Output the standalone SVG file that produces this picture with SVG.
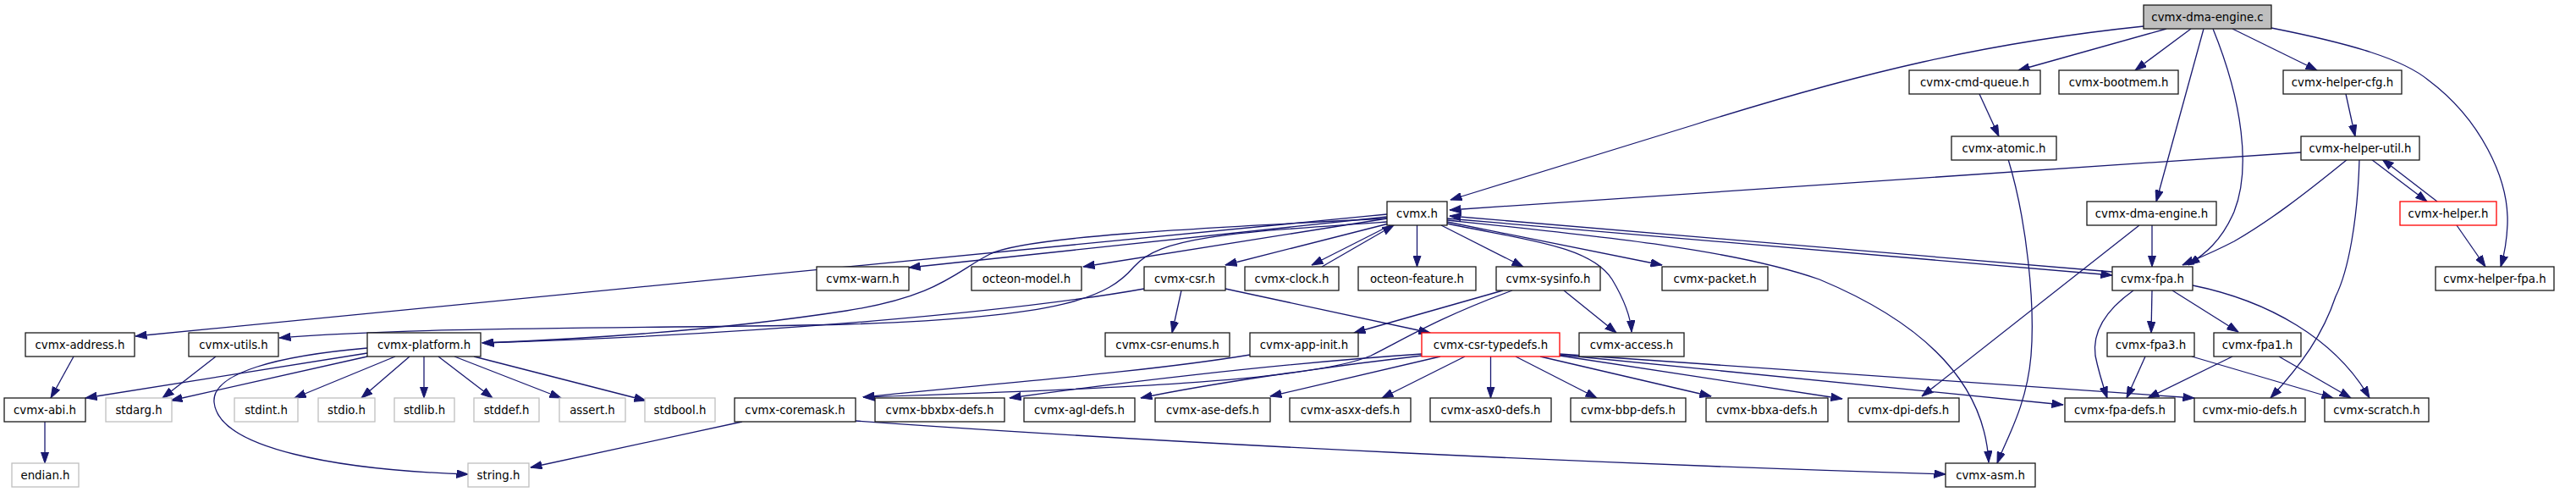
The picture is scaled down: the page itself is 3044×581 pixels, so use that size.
<svg xmlns="http://www.w3.org/2000/svg" width="3044" height="581" viewBox="0 0 3044 581">
<style>
.n rect{fill:#fff;stroke:#1a1a1a;stroke-width:1.3}
.g rect{fill:#fff;stroke:#bfbfbf;stroke-width:1.3}
.r rect{fill:#fff;stroke:#f00;stroke-width:1.3}
.root rect{fill:#bfbfbf;stroke:#1a1a1a;stroke-width:1.3}
text{font-family:"DejaVu Sans",sans-serif;font-size:13.33px;text-anchor:middle;fill:#000}
#edges path{fill:none;stroke:#191970;stroke-width:1.3;marker-end:url(#a)}
</style>
<defs>
<marker id="a" viewBox="0 0 14 10" refX="13.5" refY="5" markerWidth="14" markerHeight="10" markerUnits="userSpaceOnUse" orient="auto">
<path d="M0,0.3 L13.5,5 L0,9.7 z" fill="#191970" stroke="#191970" stroke-width="1"/>
</marker>
</defs>
<rect width="3044" height="581" fill="#fff"/>
<g id="edges">
<path d="M2533,31 C2350,50 2200,85 2000,148 L1714,236"/>
<path d="M2560,34 L2385,83"/>
<path d="M2589,34 L2523,83"/>
<path d="M2604,34 L2548,238"/>
<path d="M2615,34 C2650,120 2660,200 2640,250 C2625,285 2605,300 2586,313"/>
<path d="M2638,34 L2738,83"/>
<path d="M2684,33 C2780,52 2840,70 2870,95 C2930,140 2965,210 2963,265 C2962,290 2958,305 2955,315"/>
<path d="M2339,111 L2362,161"/>
<path d="M2373,188 C2395,260 2405,360 2400,420 C2395,480 2370,520 2360,547"/>
<path d="M2772,111 L2783,161"/>
<path d="M2719,180 L1713,248"/>
<path d="M2802,188 L2868,238"/>
<path d="M2880,238 L2815,188"/>
<path d="M2774,188 C2720,232 2680,262 2640,285 C2615,298 2595,306 2579,313"/>
<path d="M2788,188 C2786,260 2775,320 2760,350 C2745,395 2720,430 2683,470"/>
<path d="M2903,266 L2937,315"/>
<path d="M2543,266 L2543,315"/>
<path d="M2528,266 L2271,468"/>
<path d="M1639,253 L160,397"/>
<path d="M1639,262 C1450,275 1370,280 1340,315 C1310,350 1260,375 1000,383 C800,388 500,385 330,399"/>
<path d="M1639,258 C1400,270 1210,280 1170,300 C1130,320 1110,350 1000,367 C850,390 700,400 570,405"/>
<path d="M1639,256 L1074,316"/>
<path d="M1639,258 L1280,315"/>
<path d="M1641,264 L1448,313"/>
<path d="M1643,266 L1550,313"/>
<path d="M1562,315 L1647,266"/>
<path d="M1674.5,266 L1674.5,315"/>
<path d="M1703,266 L1800,315"/>
<path d="M1710,262 L1964,313"/>
<path d="M1710,264 C1800,283 1880,290 1905,330 C1920,355 1927,375 1928,392"/>
<path d="M1710,258 L2496,325"/>
<path d="M2496,321 L1713,255"/>
<path d="M1710,260 C1900,280 2050,295 2150,330 C2270,380 2345,450 2350,546"/>
<path d="M1396,343 L1385,393"/>
<path d="M1448,341 L1690,393"/>
<path d="M1352,341 C1200,368 900,395 570,405"/>
<path d="M1776,343 L1600,393"/>
<path d="M1787,343 C1700,375 1660,400 1620,420 C1550,450 1300,460 1020,469"/>
<path d="M1848,343 L1910,393"/>
<path d="M1477,419 C1350,440 1150,455 1020,469"/>
<path d="M1680,418 C1500,430 1300,455 1193,470"/>
<path d="M1680,420 C1550,435 1420,455 1348,470"/>
<path d="M1702,421 L1501,468"/>
<path d="M1731,421 L1633,470"/>
<path d="M1761.5,421 L1761.5,470"/>
<path d="M1791,421 L1887,470"/>
<path d="M1820,421 L2022,468"/>
<path d="M1843,420 L2177,471"/>
<path d="M1843,419 L2438,478"/>
<path d="M1843,418 L2593,470"/>
<path d="M434,417 L101,470"/>
<path d="M434,421 L202,473"/>
<path d="M434,411 C330,420 250,440 253,475 C258,530 400,555 553,560"/>
<path d="M467,421 L348,470"/>
<path d="M484,421 L427,470"/>
<path d="M501,421 L501,470"/>
<path d="M518,421 L582,470"/>
<path d="M537,421 L663,470"/>
<path d="M560,421 L763,473"/>
<path d="M255,421 L192,470"/>
<path d="M87,421 L60,470"/>
<path d="M53,498 L53,547"/>
<path d="M877,498 L627,552"/>
<path d="M1011,497 C1400,525 1900,548 2299,560"/>
<path d="M2543,343 L2542,393"/>
<path d="M2567,343 L2645,392"/>
<path d="M2591,337 C2680,355 2760,400 2800,470"/>
<path d="M2521,343 C2490,365 2472,390 2476,420 C2480,440 2485,455 2490,470"/>
<path d="M2535,421 L2513,470"/>
<path d="M2590,421 L2757,470"/>
<path d="M2638,421 L2538,470"/>
<path d="M2693,421 L2778,470"/>
</g>
<g id="n-dma-engine-c" class="root"><rect x="2533" y="6" width="151" height="28"/><text x="2608.5" y="24.5">cvmx-dma-engine.c</text></g>
<g id="n-cmd-queue" class="n"><rect x="2256" y="83" width="155" height="28"/><text x="2333.5" y="101.5">cvmx-cmd-queue.h</text></g>
<g id="n-bootmem" class="n"><rect x="2433" y="83" width="141" height="28"/><text x="2503.5" y="101.5">cvmx-bootmem.h</text></g>
<g id="n-helper-cfg" class="n"><rect x="2698" y="83" width="140" height="28"/><text x="2768" y="101.5">cvmx-helper-cfg.h</text></g>
<g id="n-atomic" class="n"><rect x="2306" y="161" width="124" height="28"/><text x="2368" y="179.5">cvmx-atomic.h</text></g>
<g id="n-helper-util" class="n"><rect x="2719" y="161" width="140" height="28"/><text x="2789" y="179.5">cvmx-helper-util.h</text></g>
<g id="n-cvmx" class="n"><rect x="1639" y="238" width="71" height="28"/><text x="1674.5" y="256.5">cvmx.h</text></g>
<g id="n-dma-engine-h" class="n"><rect x="2466" y="238" width="153" height="28"/><text x="2542.5" y="256.5">cvmx-dma-engine.h</text></g>
<g id="n-helper" class="r"><rect x="2836" y="238" width="114" height="28"/><text x="2893" y="256.5">cvmx-helper.h</text></g>
<g id="n-warn" class="n"><rect x="965" y="315" width="109" height="28"/><text x="1019.5" y="333.5">cvmx-warn.h</text></g>
<g id="n-octeon-model" class="n"><rect x="1148" y="315" width="130" height="28"/><text x="1213" y="333.5">octeon-model.h</text></g>
<g id="n-csr" class="n"><rect x="1352" y="315" width="96" height="28"/><text x="1400" y="333.5">cvmx-csr.h</text></g>
<g id="n-clock" class="n"><rect x="1471" y="315" width="111" height="28"/><text x="1526.5" y="333.5">cvmx-clock.h</text></g>
<g id="n-octeon-feature" class="n"><rect x="1605" y="315" width="139" height="28"/><text x="1674.5" y="333.5">octeon-feature.h</text></g>
<g id="n-sysinfo" class="n"><rect x="1768" y="315" width="123" height="28"/><text x="1829.5" y="333.5">cvmx-sysinfo.h</text></g>
<g id="n-packet" class="n"><rect x="1964" y="315" width="125" height="28"/><text x="2026.5" y="333.5">cvmx-packet.h</text></g>
<g id="n-fpa" class="n"><rect x="2496" y="315" width="95" height="28"/><text x="2543.5" y="333.5">cvmx-fpa.h</text></g>
<g id="n-helper-fpa" class="n"><rect x="2878" y="315" width="140" height="28"/><text x="2948" y="333.5">cvmx-helper-fpa.h</text></g>
<g id="n-address" class="n"><rect x="30" y="393" width="129" height="28"/><text x="94.5" y="411.5">cvmx-address.h</text></g>
<g id="n-utils" class="n"><rect x="223" y="393" width="106" height="28"/><text x="276" y="411.5">cvmx-utils.h</text></g>
<g id="n-platform" class="n"><rect x="434" y="393" width="134" height="28"/><text x="501" y="411.5">cvmx-platform.h</text></g>
<g id="n-csr-enums" class="n"><rect x="1306" y="393" width="147" height="28"/><text x="1379.5" y="411.5">cvmx-csr-enums.h</text></g>
<g id="n-app-init" class="n"><rect x="1477" y="393" width="128" height="28"/><text x="1541" y="411.5">cvmx-app-init.h</text></g>
<g id="n-csr-typedefs" class="r"><rect x="1680" y="393" width="163" height="28"/><text x="1761.5" y="411.5">cvmx-csr-typedefs.h</text></g>
<g id="n-access" class="n"><rect x="1866" y="393" width="124" height="28"/><text x="1928" y="411.5">cvmx-access.h</text></g>
<g id="n-fpa3" class="n"><rect x="2490" y="393" width="103" height="28"/><text x="2541.5" y="411.5">cvmx-fpa3.h</text></g>
<g id="n-fpa1" class="n"><rect x="2616" y="393" width="103" height="28"/><text x="2667.5" y="411.5">cvmx-fpa1.h</text></g>
<g id="n-abi" class="n"><rect x="5" y="470" width="96" height="28"/><text x="53" y="488.5">cvmx-abi.h</text></g>
<g id="n-stdarg" class="g"><rect x="125" y="470" width="78" height="28"/><text x="164" y="488.5">stdarg.h</text></g>
<g id="n-stdint" class="g"><rect x="277" y="470" width="75" height="28"/><text x="314.5" y="488.5">stdint.h</text></g>
<g id="n-stdio" class="g"><rect x="376" y="470" width="67" height="28"/><text x="409.5" y="488.5">stdio.h</text></g>
<g id="n-stdlib" class="g"><rect x="466" y="470" width="71" height="28"/><text x="501.5" y="488.5">stdlib.h</text></g>
<g id="n-stddef" class="g"><rect x="560" y="470" width="77" height="28"/><text x="598.5" y="488.5">stddef.h</text></g>
<g id="n-assert" class="g"><rect x="661" y="470" width="78" height="28"/><text x="700" y="488.5">assert.h</text></g>
<g id="n-stdbool" class="g"><rect x="762" y="470" width="83" height="28"/><text x="803.5" y="488.5">stdbool.h</text></g>
<g id="n-coremask" class="n"><rect x="868" y="470" width="143" height="28"/><text x="939.5" y="488.5">cvmx-coremask.h</text></g>
<g id="n-bbxbx" class="n"><rect x="1034" y="470" width="153" height="28"/><text x="1110.5" y="488.5">cvmx-bbxbx-defs.h</text></g>
<g id="n-agl" class="n"><rect x="1210" y="470" width="131" height="28"/><text x="1275.5" y="488.5">cvmx-agl-defs.h</text></g>
<g id="n-ase" class="n"><rect x="1365" y="470" width="136" height="28"/><text x="1433" y="488.5">cvmx-ase-defs.h</text></g>
<g id="n-asxx" class="n"><rect x="1524" y="470" width="143" height="28"/><text x="1595.5" y="488.5">cvmx-asxx-defs.h</text></g>
<g id="n-asx0" class="n"><rect x="1690" y="470" width="143" height="28"/><text x="1761.5" y="488.5">cvmx-asx0-defs.h</text></g>
<g id="n-bbp" class="n"><rect x="1856" y="470" width="136" height="28"/><text x="1924" y="488.5">cvmx-bbp-defs.h</text></g>
<g id="n-bbxa" class="n"><rect x="2016" y="470" width="144" height="28"/><text x="2088" y="488.5">cvmx-bbxa-defs.h</text></g>
<g id="n-dpi" class="n"><rect x="2184" y="470" width="131" height="28"/><text x="2249.5" y="488.5">cvmx-dpi-defs.h</text></g>
<g id="n-fpa-defs" class="n"><rect x="2440" y="470" width="130" height="28"/><text x="2505" y="488.5">cvmx-fpa-defs.h</text></g>
<g id="n-mio" class="n"><rect x="2593" y="470" width="131" height="28"/><text x="2658.5" y="488.5">cvmx-mio-defs.h</text></g>
<g id="n-scratch" class="n"><rect x="2747" y="470" width="123" height="28"/><text x="2808.5" y="488.5">cvmx-scratch.h</text></g>
<g id="n-endian" class="g"><rect x="14" y="547" width="79" height="28"/><text x="53.5" y="565.5">endian.h</text></g>
<g id="n-string" class="g"><rect x="553" y="547" width="72" height="28"/><text x="589" y="565.5">string.h</text></g>
<g id="n-asm" class="n"><rect x="2299" y="547" width="106" height="28"/><text x="2352" y="565.5">cvmx-asm.h</text></g>
</svg>
